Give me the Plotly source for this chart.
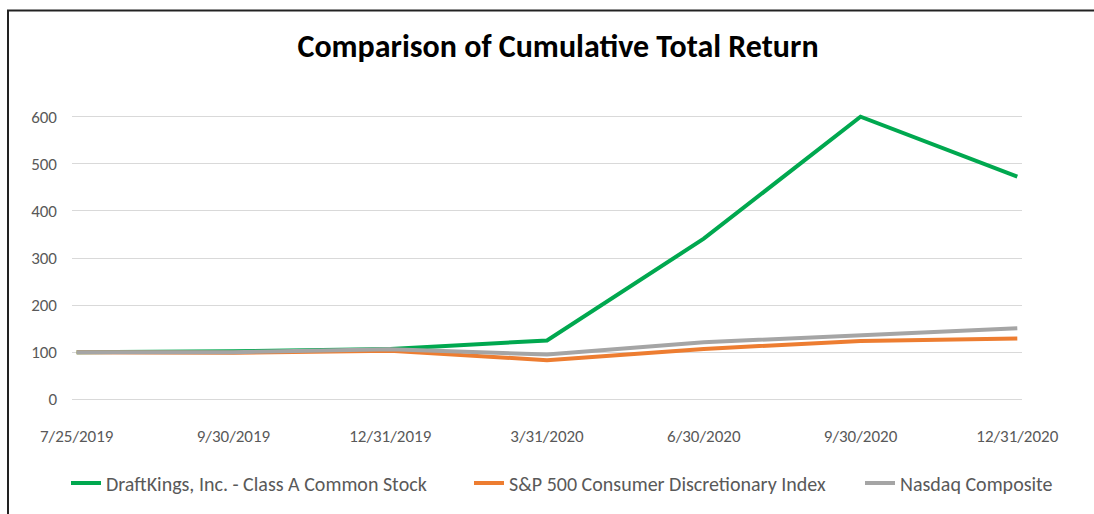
import plotly.graph_objects as go

dates = ["7/25/2019", "9/30/2019", "12/31/2019", "3/31/2020", "6/30/2020", "9/30/2020", "12/31/2020"]
draftkings = [100, 102, 107, 125, 341, 600, 473]
sp500_cd = [100, 99, 103, 83, 107, 124, 129]
nasdaq = [100, 100, 106, 95, 121, 137, 151]
y_ticks = [0, 100, 200, 300, 400, 500, 600]

W, H = 1094, 514
ml, mr, mt, mb = 72, 72, 112, 106
FONT = "Carlito, Calibri, Lato, sans-serif"

pw = W - ml - mr
ph = H - mt - mb
def px(x):
    return (x - ml) / pw
def py(y):
    return (H - mb - y) / ph

fig = go.Figure()
series = [
    ("DraftKings, Inc. - Class A Common Stock", draftkings, "#00A84F", "legend", 106),
    ("S&P 500 Consumer Discretionary Index", sp500_cd, "#ED7D31", "legend2", 509),
    ("Nasdaq Composite", nasdaq, "#A5A5A5", "legend3", 900),
]
legends = {}
for name, vals, col, lg, tx in series:
    fig.add_trace(go.Scatter(x=dates, y=vals, mode="lines", name=name, legend=lg,
                             line=dict(color=col, width=4)))
    legends[lg] = dict(orientation="h", x=px(tx - 40), xanchor="left", y=py(488),
                       yanchor="middle", font=dict(size=20, color="#595959"),
                       itemwidth=30, bgcolor="rgba(0,0,0,0)")

fig.update_layout(
    width=W, height=H,
    margin=dict(l=ml, r=mr, t=mt, b=mb),
    paper_bgcolor="white", plot_bgcolor="white",
    font=dict(family=FONT, size=17, color="#595959"),
    title=dict(text="<b>Comparison of Cumulative Total Return</b>", x=558 / W, xanchor="center",
               y=1 - 46 / H, yanchor="middle",
               font=dict(family=FONT, size=32, color="#000000")),
    xaxis=dict(type="category", range=[-0.03, 6.03], showgrid=False, showline=False,
               zeroline=False, ticks="", ticklabelstandoff=20,
               tickfont=dict(size=17, color="#595959")),
    yaxis=dict(range=[-10, 610], tickvals=y_ticks, showgrid=True, gridcolor="#D9D9D9",
               gridwidth=1, zeroline=False, showline=False, ticks="",
               ticklabelstandoff=14, tickfont=dict(size=17, color="#595959")),
    showlegend=True,
    shapes=[dict(type="rect", xref="paper", yref="paper",
                 x0=px(8), x1=px(1100), y0=py(540), y1=py(9),
                 line=dict(color="#222222", width=2), fillcolor="rgba(0,0,0,0)",
                 layer="below")],
    **legends,
)

fig.write_html("out.html", post_script="document.body.style.margin='0px';",
               config={"displayModeBar": False})
